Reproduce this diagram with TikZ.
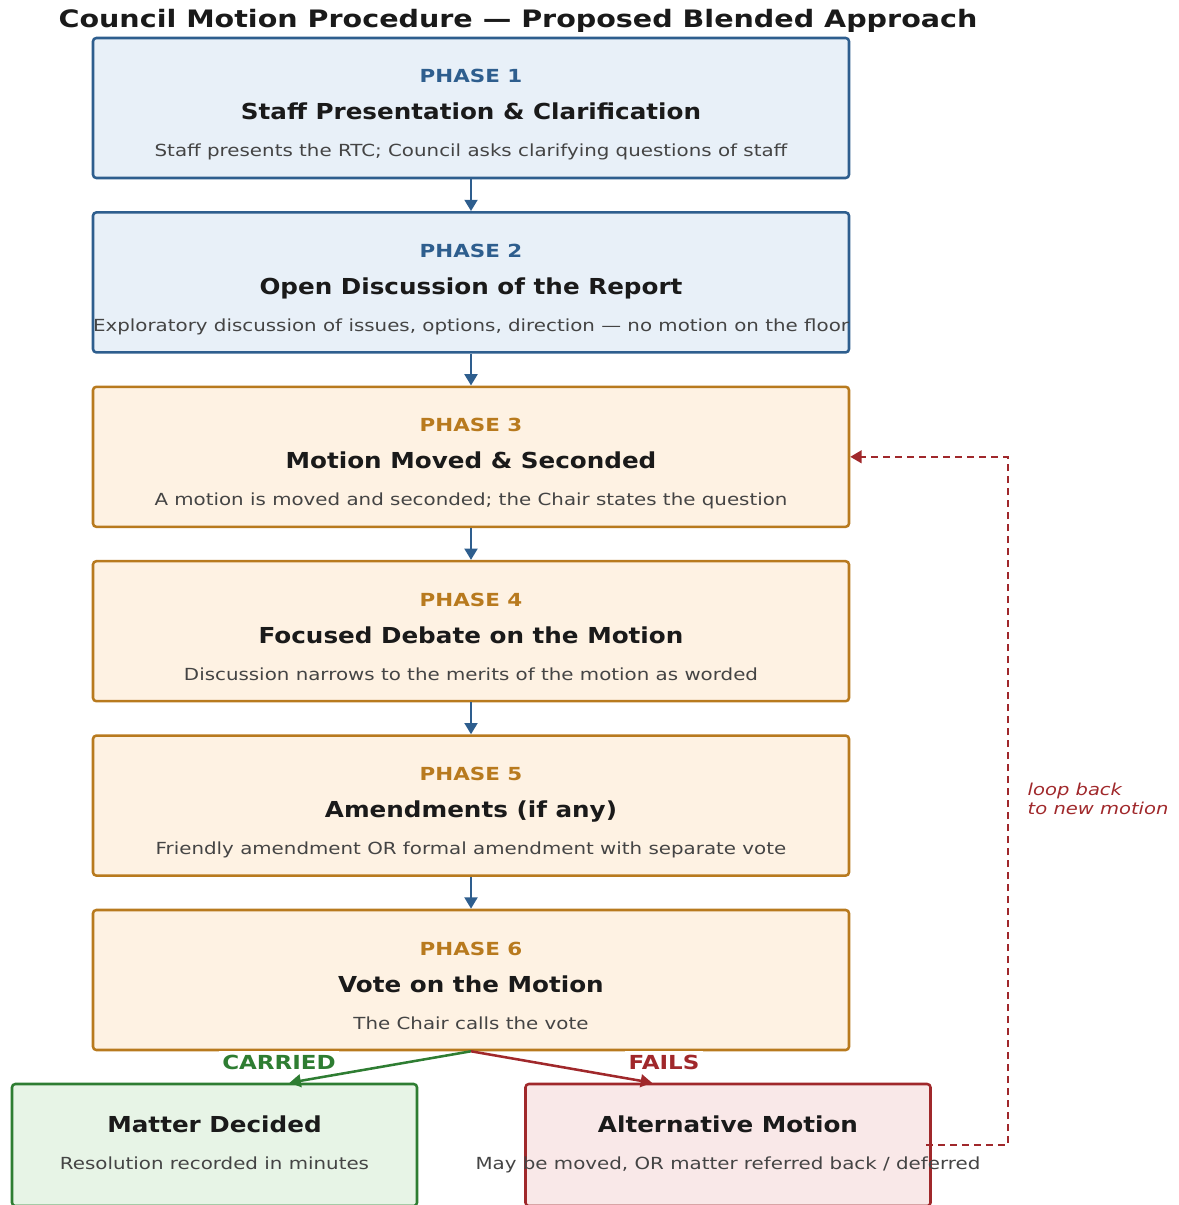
\documentclass[tikz,border=0pt]{standalone}
\usepackage{fontspec}
\setmainfont{DejaVu Sans}[FakeStretch=1.19]
\newfontfamily\headfont{DejaVu Sans}[FakeStretch=1.12]
\usetikzlibrary{arrows.meta, positioning}

\definecolor{bluedge}{HTML}{2E5E8E}
\definecolor{bluefill}{HTML}{E8F0F8}
\definecolor{ambedge}{HTML}{B87A1E}
\definecolor{ambfill}{HTML}{FEF2E3}
\definecolor{grnedge}{HTML}{2E7D32}
\definecolor{grnfill}{HTML}{E7F4E6}
\definecolor{rededge}{HTML}{A0282B}
\definecolor{redfill}{HTML}{F9E8E8}
\definecolor{inktext}{HTML}{1A1A1A}
\definecolor{greytext}{HTML}{444444}

\begin{document}
\begin{tikzpicture}[
      x=0.75pt, y=-0.75pt, node distance=130.8pt, on grid,
      >={Stealth[inset=0pt, length=8.5pt, width=9.5pt]},
      phase/.style={draw, rounded corners=2.5pt, line width=1.9pt,
        minimum width=567pt, minimum height=105pt, inner sep=0pt},
      early/.style={phase, draw=bluedge, fill=bluefill},
      late/.style={phase, draw=ambedge, fill=ambfill},
      outcome/.style={draw, rounded corners=2.5pt, line width=1.9pt,
        minimum width=303.75pt, minimum height=91.5pt, inner sep=0pt},
      tag/.style={anchor=base, font=\bfseries\fontsize{13.5}{16}\selectfont},
      head/.style={anchor=base, text=inktext, font=\headfont\bfseries\fontsize{16.5}{19}\selectfont},
      note/.style={anchor=base, text=greytext, font=\fontsize{12.5}{15}\selectfont},
      flow/.style={->, draw=bluedge, line width=2.2pt},
      verdict/.style={fill=white, inner sep=2.5pt, font=\bfseries\fontsize{14.5}{17}\selectfont},
      ]
      \useasboundingbox (0,0) rectangle (1178,1205);

      \node[anchor=base, text=inktext, font=\bfseries\fontsize{18}{21}\selectfont]
        (title) at (518,28) {Council Motion Procedure — Proposed Blended Approach};

      % the six phases
      \node[early] (p1) at (471,108) {};
      \node[early] (p2) [below=of p1] {};
      \node[late]  (p3) [below=of p2] {};
      \node[late]  (p4) [below=of p3] {};
      \node[late]  (p5) [below=of p4] {};
      \node[late]  (p6) [below=of p5] {};

      \node[tag, text=bluedge] (t1) at ([yshift=18.75pt]p1.center) {PHASE 1};
      \node[head] (h1) at ([yshift=-9pt]p1.center) {Staff Presentation \& Clarification};
      \node[note] (n1) at ([yshift=-36.75pt]p1.center) {Staff presents the RTC; Council asks clarifying questions of staff};

      \node[tag, text=bluedge] (t2) at ([yshift=18.75pt]p2.center) {PHASE 2};
      \node[head] (h2) at ([yshift=-9pt]p2.center) {Open Discussion of the Report};
      \node[note] (n2) at ([yshift=-36.75pt]p2.center) {Exploratory discussion of issues, options, direction — no motion on the floor};

      \node[tag, text=ambedge] (t3) at ([yshift=18.75pt]p3.center) {PHASE 3};
      \node[head] (h3) at ([yshift=-9pt]p3.center) {Motion Moved \& Seconded};
      \node[note] (n3) at ([yshift=-36.75pt]p3.center) {A motion is moved and seconded; the Chair states the question};

      \node[tag, text=ambedge] (t4) at ([yshift=18.75pt]p4.center) {PHASE 4};
      \node[head] (h4) at ([yshift=-9pt]p4.center) {Focused Debate on the Motion};
      \node[note] (n4) at ([yshift=-36.75pt]p4.center) {Discussion narrows to the merits of the motion as worded};

      \node[tag, text=ambedge] (t5) at ([yshift=18.75pt]p5.center) {PHASE 5};
      \node[head] (h5) at ([yshift=-9pt]p5.center) {Amendments (if any)};
      \node[note] (n5) at ([yshift=-36.75pt]p5.center) {Friendly amendment OR formal amendment with separate vote};

      \node[tag, text=ambedge] (t6) at ([yshift=18.75pt]p6.center) {PHASE 6};
      \node[head] (h6) at ([yshift=-9pt]p6.center) {Vote on the Motion};
      \node[note] (n6) at ([yshift=-36.75pt]p6.center) {The Chair calls the vote};

      \draw[flow] (p1) -- (p2);
      \draw[flow] (p2) -- (p3);
      \draw[flow] (p3) -- (p4);
      \draw[flow] (p4) -- (p5);
      \draw[flow] (p5) -- (p6);

      % outcomes
      \node[outcome, draw=grnedge, fill=grnfill] (done) at (214.5,1145) {};
      \node[outcome, draw=rededge, fill=redfill] (alt) at (728,1145) {};

      \node[head] (hd) at ([yshift=9.75pt]done.center) {Matter Decided};
      \node[note] (nd) at ([yshift=-18pt]done.center) {Resolution recorded in minutes};
      \node[head] (ha) at ([yshift=9.75pt]alt.center) {Alternative Motion};
      \node[note] (na) at ([yshift=-18pt]alt.center) {May be moved, OR matter referred back / deferred};

      \draw[->, draw=grnedge, line width=1.9pt] (p6.south) -- ([xshift=56.25pt]done.north);
      \draw[->, draw=rededge, line width=1.9pt] (p6.south) -- ([xshift=-57pt]alt.north);
      \node[verdict, text=grnedge] (yes) at (279,1062) {CARRIED};
      \node[verdict, text=rededge] (no) at (664,1062) {FAILS};

      % back to phase 3
      \draw[->, draw=rededge, line width=1.6pt, dash pattern=on 5.5pt off 3.5pt]
        ([xshift=-4.5pt]alt.east) -- ++(82,0) |- (p3.east);
      \node[anchor=west, align=left, text=rededge, font=\itshape\fontsize{12.3}{13.8}\selectfont]
        (loop) at (1023,799) {loop back\\to new motion};
    \end{tikzpicture}
\end{document}
